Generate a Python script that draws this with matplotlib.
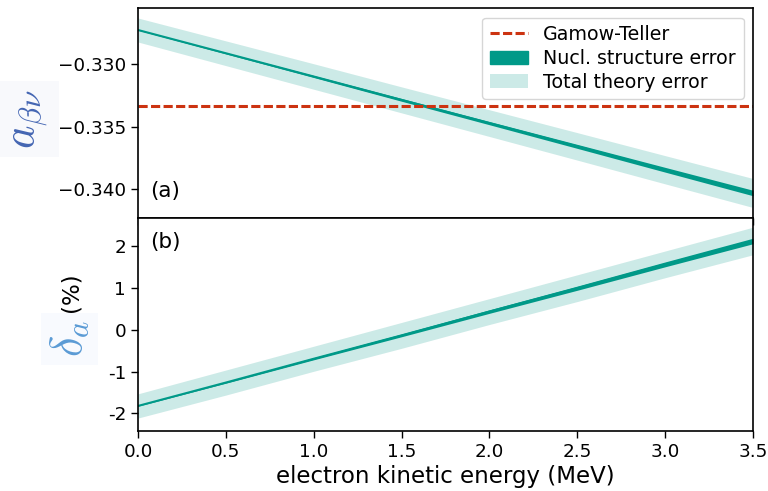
import matplotlib
matplotlib.use("Agg")
import matplotlib.pyplot as plt
import numpy as np
from matplotlib.patches import Patch
from matplotlib.lines import Line2D
from matplotlib.ticker import FixedLocator, FixedFormatter

plt.rcParams["mathtext.fontset"] = "cm"
plt.rcParams["font.family"] = "DejaVu Sans"

# electron kinetic energy grid (MeV)
energy = [0.0, 0.5, 1.0, 1.5, 2.0, 2.5, 3.0, 3.5]

# beta-neutrino correlation coefficient and its uncertainties
a_central = [-0.32728, -0.32914, -0.33100, -0.33287, -0.33473, -0.33659, -0.33846, -0.34032]
a_total_err = [0.00096, 0.00099, 0.00102, 0.00104, 0.00107, 0.00110, 0.00113, 0.00116]
a_nucl_err = [0.00002, 0.00005, 0.00008, 0.00011, 0.00013, 0.00016, 0.00019, 0.00022]
a_gamow_teller = -1.0 / 3.0

# relative deviation from the Gamow-Teller value (%)
d_central = [-1.82, -1.26, -0.69, -0.13, 0.44, 1.00, 1.57, 2.13]
d_total_err = [0.29, 0.30, 0.30, 0.31, 0.31, 0.32, 0.32, 0.33]
d_nucl_err = [0.005, 0.015, 0.025, 0.033, 0.042, 0.05, 0.058, 0.066]

top_ticks = [-0.340, -0.335, -0.330]
top_ticklabels = ["\u22120.340", "\u22120.335", "\u22120.330"]
bottom_ticks = [-2, -1, 0, 1, 2]
bottom_ticklabels = ["-2", "-1", "0", "1", "2"]
x_ticks = [0.0, 0.5, 1.0, 1.5, 2.0, 2.5, 3.0, 3.5]

TEAL = "#009988"
RED = "#CC3311"
DASH = (0, (3.0, 1.1))

fig = plt.figure(figsize=(7.68, 4.91), dpi=100)
left, right = 0.1797, 0.9805
ax1 = fig.add_axes([left, 0.556, right - left, 0.9837 - 0.556])
ax2 = fig.add_axes([left, 0.1222, right - left, 0.556 - 0.1222], sharex=ax1)

E = np.array(energy)


def draw_bands(ax, c, tot, nuc):
    c, tot, nuc = np.array(c), np.array(tot), np.array(nuc)
    ax.fill_between(E, c - tot, c + tot, color=TEAL, alpha=0.2, lw=0)
    ax.fill_between(E, c - nuc, c + nuc, color=TEAL, lw=0)
    ax.plot(E, c, color=TEAL, lw=1.5)


draw_bands(ax1, a_central, a_total_err, a_nucl_err)
ax1.axhline(a_gamow_teller, color=RED, ls=DASH, lw=2.2)
ax1.set_ylim(-0.34232, -0.32552)
ax1.yaxis.set_major_locator(FixedLocator(top_ticks))
ax1.yaxis.set_major_formatter(FixedFormatter(top_ticklabels))
ax1.tick_params(labelbottom=False)

draw_bands(ax2, d_central, d_total_err, d_nucl_err)
ax2.set_ylim(-2.42, 2.68)
ax2.yaxis.set_major_locator(FixedLocator(bottom_ticks))
ax2.yaxis.set_major_formatter(FixedFormatter(bottom_ticklabels))
ax2.set_xlim(0.0, 3.5)
ax2.xaxis.set_major_locator(FixedLocator(x_ticks))
ax2.xaxis.set_major_formatter(FixedFormatter(["%.1f" % v for v in x_ticks]))
ax2.set_xlabel("electron kinetic energy (MeV)", fontsize=16.5, labelpad=3)

for ax in (ax1, ax2):
    ax.tick_params(labelsize=13.2, width=1.0, length=5)
    for s in ax.spines.values():
        s.set_linewidth(1.2)

ax1.text(0.02, 0.13, "(a)", transform=ax1.transAxes, fontsize=15.5, va="center")
ax2.text(0.02, 0.887, "(b)", transform=ax2.transAxes, fontsize=15.5, va="center")

handles = [
    Line2D([], [], color=RED, ls=DASH, lw=2.2),
    Patch(facecolor=TEAL, edgecolor=TEAL),
    Patch(facecolor=TEAL, alpha=0.2, lw=0),
]
labels = ["Gamow-Teller", "Nucl. structure error", "Total theory error"]
ax1.legend(handles, labels, loc="upper right", fontsize=13.7, frameon=True,
           handlelength=2.0, borderpad=0.4, labelspacing=0.25)

# y-axis labels
fig.text(0.038, 0.757, r"$a_{\beta\nu}$", rotation=90, fontsize=32,
         color="#4466B3", ha="center", va="center",
         bbox=dict(facecolor="#F8F9FC", edgecolor="none", pad=6))
fig.text(0.091, 0.31, r"$\delta_a$", rotation=90, fontsize=32,
         color="#5B9BD5", ha="center", va="center",
         bbox=dict(facecolor="#F8FAFE", edgecolor="none", pad=5))
fig.text(0.093, 0.405, "(%)", rotation=90, fontsize=16.5,
         ha="center", va="center")

fig.savefig("out.png", dpi=100)
